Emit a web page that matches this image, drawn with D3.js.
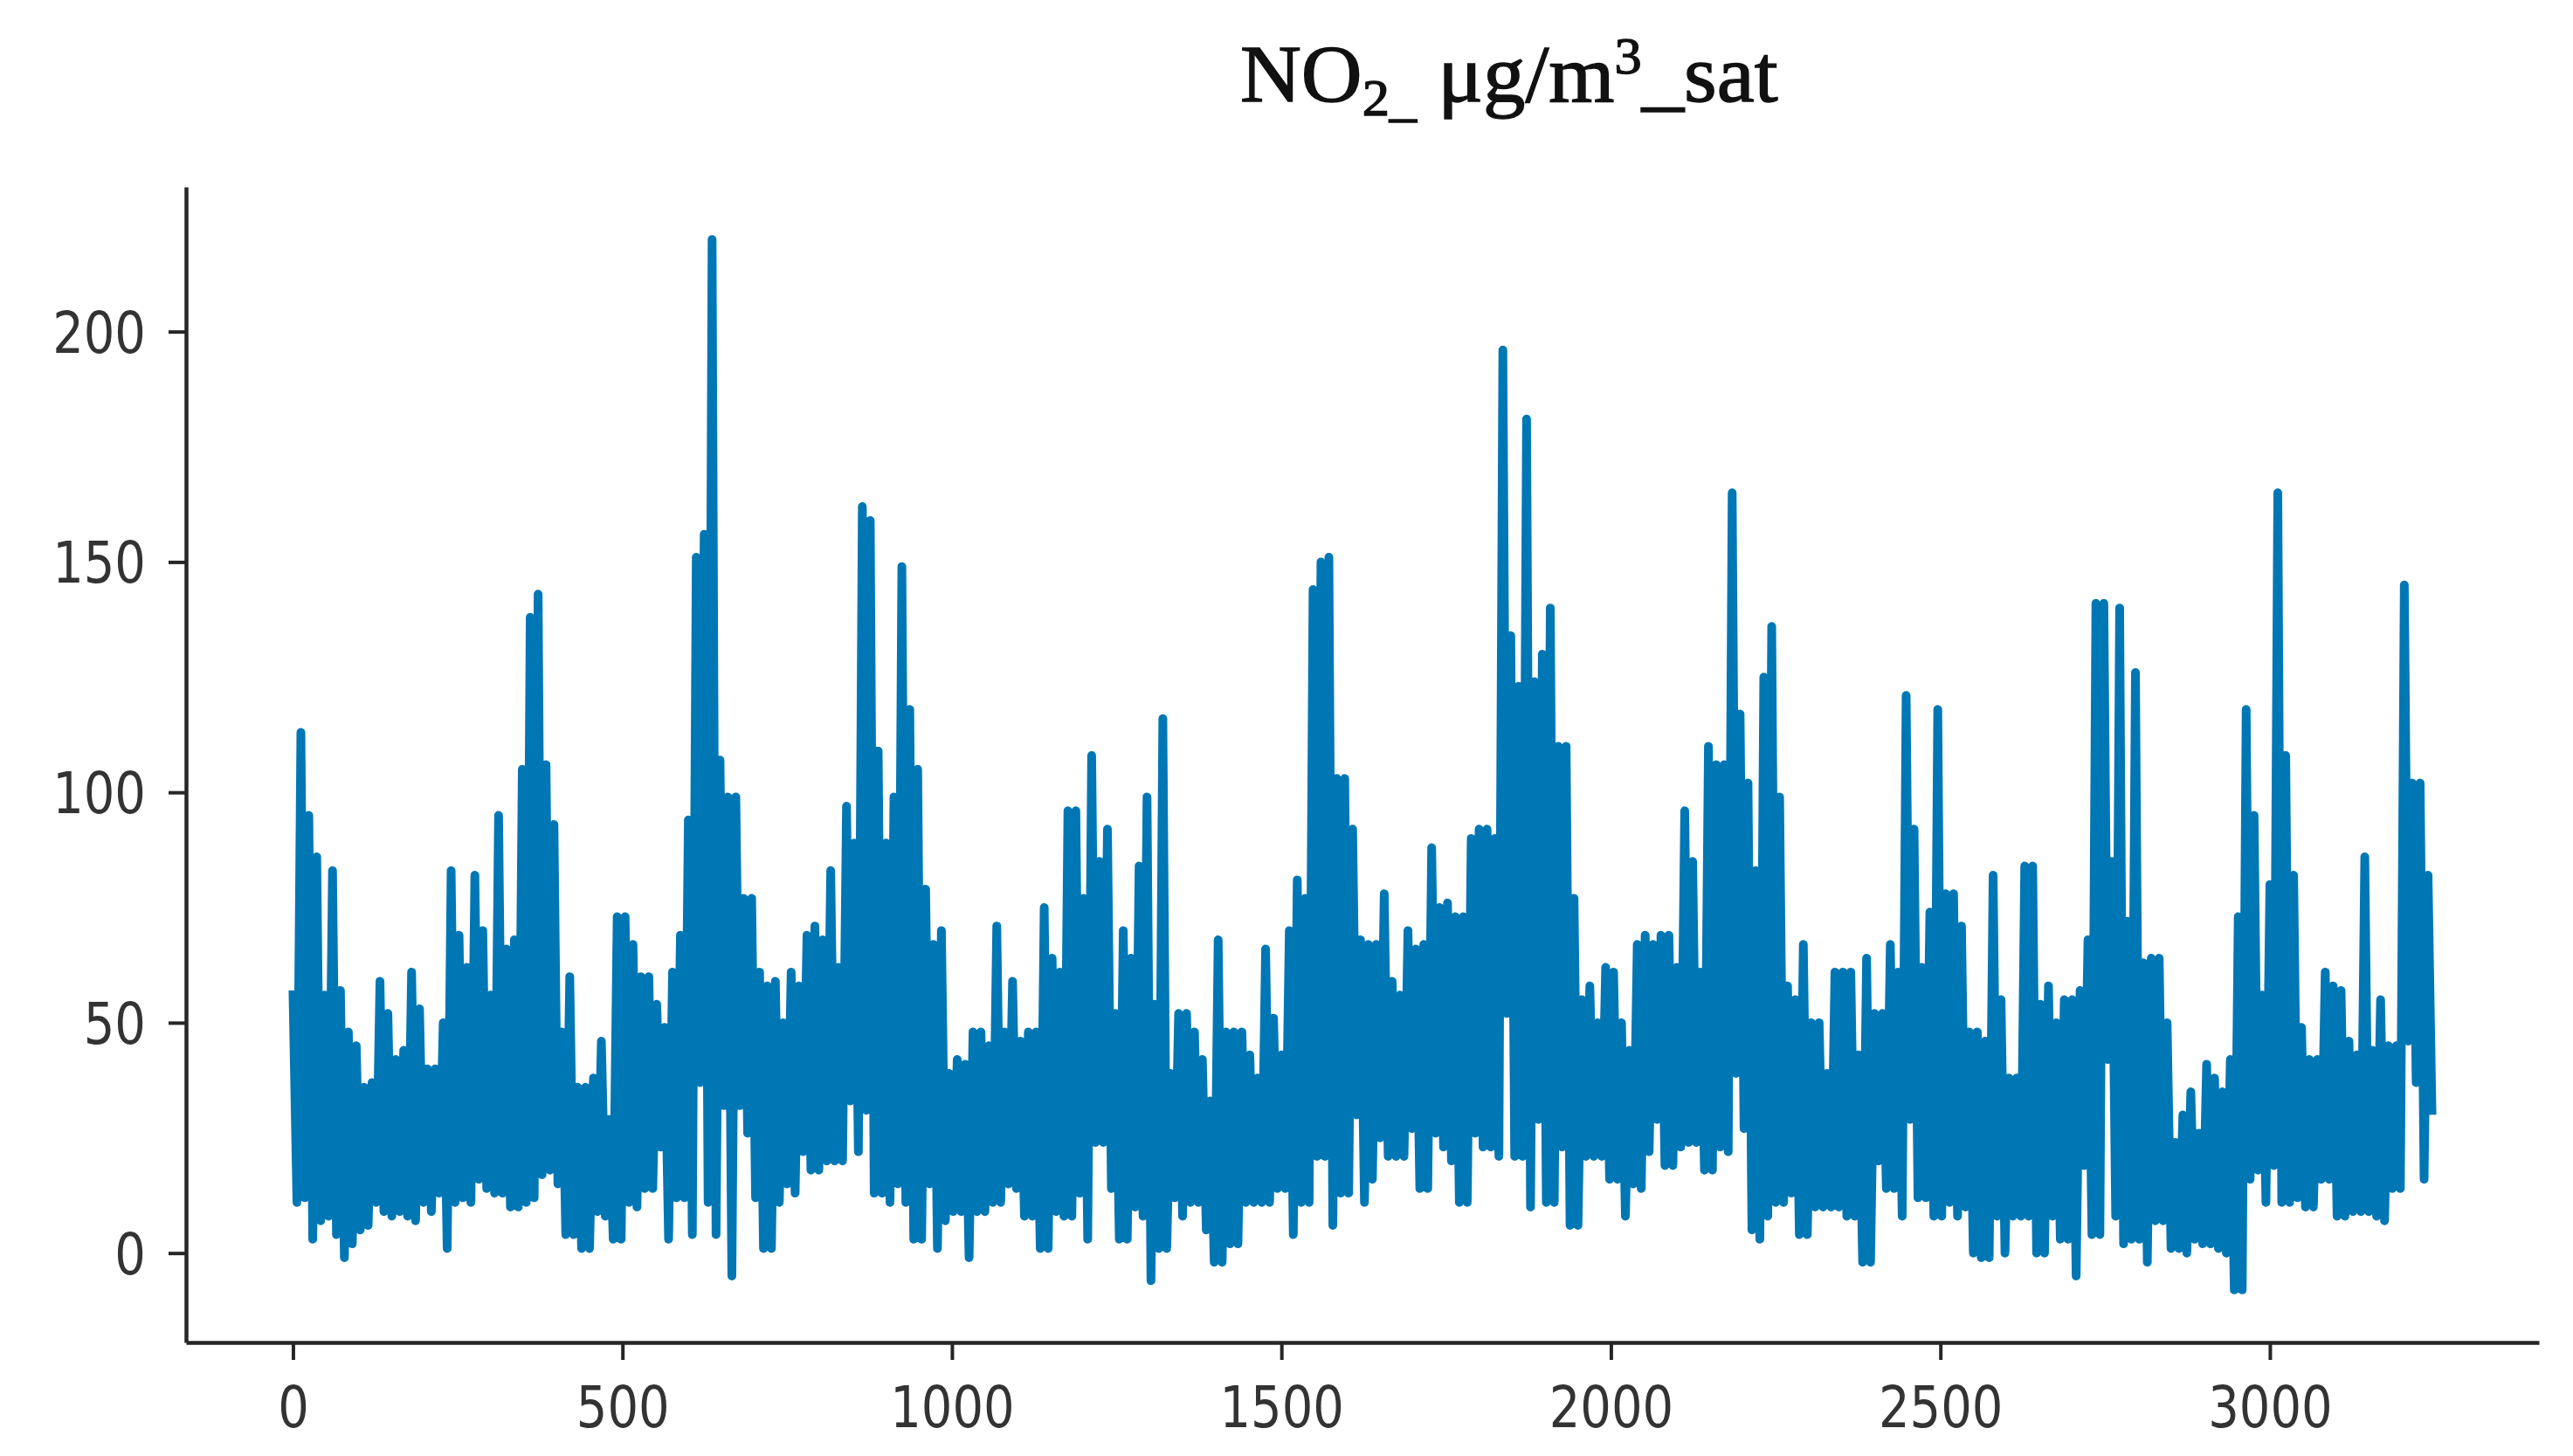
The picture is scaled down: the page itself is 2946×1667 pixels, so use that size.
<!DOCTYPE html>
<html><head><meta charset="utf-8">
<script src="https://cdn.jsdelivr.net/npm/d3@7"></script>
<style>html,body{margin:0;padding:0;background:#fff;}svg{display:block;}</style>
</head><body>
<svg id="chart" width="2946" height="1667"></svg>
<script>
// ---- data ----
const xTicks = [0, 500, 1000, 1500, 2000, 2500, 3000];
const yTicks = [0, 50, 100, 150, 200];
const sampleStep = 6; // index spacing between the values below
const no2 = [
57,11,113,12,95,3,86,7,56,8,
83,4,57,-1,48,2,45,5,36,6,
37,11,59,9,52,8,42,9,44,8,
61,7,53,11,40,9,40,13,50,1,
83,11,69,12,62,11,82,16,70,14,
56,13,95,13,66,10,68,10,105,11,
138,12,143,17,106,18,93,
15,48,4,60,4,36,1,36,1,38,
9,46,8,29,3,73,3,73,11,67,
10,60,14,60,14,54,23,49,3,61,
12,69,12,94,4,151,37,156,11,220,
4,107,32,99,-5,99,32,77,26,77,
12,61,1,58,1,59,11,50,15,61,
13,58,22,69,18,71,18,68,
20,83,20,62,20,97,33,89,22,162,
31,159,13,109,13,89,11,99,15,149,
11,118,3,105,3,79,15,67,1,70,
7,39,9,42,9,41,-1,48,9,48,
9,45,11,71,11,48,15,59,14,46,
8,48,8,48,1,75,1,64,9,61,
8,96,8,96,13,77,3,108,24,
85,24,92,14,52,3,70,3,64,10,
84,8,99,-6,54,1,116,1,39,12,
52,8,52,11,48,11,42,5,33,-2,
68,-2,48,2,48,2,48,11,43,11,
38,11,66,11,51,14,43,14,70,4,
81,11,77,11,144,21,150,21,151,6,
103,13,103,13,92,30,68,11,
67,16,67,25,78,21,59,21,56,21,
70,27,66,14,67,14,88,26,75,23,
76,20,73,11,73,11,90,26,92,23,
92,23,90,21,196,52,134,21,123,21,
181,10,124,29,130,11,140,11,110,23,
110,6,77,6,55,21,58,21,50,21,
62,16,61,16,50,8,44,15,67,
14,69,22,67,29,69,19,69,19,62,
23,96,24,85,24,61,18,110,18,106,
23,106,22,165,39,117,27,102,5,83,
3,125,8,136,11,99,11,58,13,55,
4,67,4,50,10,50,10,39,10,61,
10,61,8,61,8,43,-2,64,-2,52,
20,52,14,67,14,61,8,121,
29,92,12,62,12,74,8,118,8,78,
11,78,8,71,10,48,0,48,-1,46,
-1,82,8,55,0,38,8,38,8,84,
8,84,0,54,0,58,8,50,3,55,
3,55,-5,57,19,68,4,141,4,141,
42,85,8,140,2,72,3,126,3,63,
-2,64,7,64,7,50,1,24,1,
30,0,35,3,26,2,41,2,38,1,
35,0,42,-8,73,-8,118,16,95,18,
56,11,80,19,165,11,108,11,82,12,
49,10,42,10,42,16,61,16,58,8,
57,8,46,9,43,9,86,9,44,8,
55,7,45,14,45,14,145,46,102,37,
102,16,82,30
];

// ---- layout ----
const box = {left: 213, right: 2907, top: 214, bottom: 1537};
const svg = d3.select("#chart");

const xMax = (no2.length - 1) * sampleStep;
const xPad = xMax * 0.05;
const x = d3.scaleLinear().domain([-xPad, xMax + xPad]).range([box.left, box.right]);
const yLo = d3.min(no2), yHi = d3.max(no2);
const yPad = (yHi - yLo) * 0.05;
const y = d3.scaleLinear().domain([yLo - yPad, yHi + yPad]).range([box.bottom, box.top]);

// ---- series ----
const line = d3.line().x((d, i) => x(i * sampleStep)).y(d => y(d));
svg.append("path").datum(no2)
  .attr("d", line)
  .attr("fill", "none")
  .attr("stroke", "#0077b5")
  .attr("stroke-width", 10)
  .attr("stroke-linejoin", "round");

// ---- axes ----
const axisColor = "#262626";
const stretch = 1.17;

const gx = svg.append("g").attr("transform", `translate(0,${box.bottom})`)
  .call(d3.axisBottom(x).tickValues(xTicks).tickFormat(d3.format("d")).tickSize(20).tickSizeOuter(0));
const gy = svg.append("g").attr("transform", `translate(${box.left},0)`)
  .call(d3.axisLeft(y).tickValues(yTicks).tickFormat(d3.format("d")).tickSize(20).tickSizeOuter(0));

[gx, gy].forEach(g => {
  g.attr("font-family", "'DejaVu Sans', sans-serif").attr("font-size", 56);
  g.select(".domain").attr("stroke", axisColor).attr("stroke-width", 4.5);
  g.selectAll(".tick line").attr("stroke", axisColor).attr("stroke-width", 4);
  g.selectAll(".tick text").attr("fill", "#333");
});
gx.selectAll(".tick text")
  .attr("y", 0).attr("dy", null)
  .attr("transform", `translate(0,97) scale(1,${stretch})`);
gy.selectAll(".tick text")
  .attr("x", 0).attr("dy", null)
  .attr("text-anchor", "end")
  .attr("transform", `translate(-46,23.5) scale(1,${stretch})`);

// ---- title ----
const t = svg.append("text")
  .attr("transform", "translate(1420,116) scale(1.04,1)")
  .attr("font-family", "'Liberation Serif', 'Times New Roman', serif")
  .attr("font-size", 93)
  .attr("fill", "#111")
  .attr("stroke", "#111").attr("stroke-width", 1.4);
t.append("tspan").text("NO");
t.append("tspan").attr("font-size", 60).attr("dy", 16).text("2_");
t.append("tspan").attr("dy", -16).text("\u00a0μg/m");
t.append("tspan").attr("font-size", 60).attr("dy", -32).text("3");
t.append("tspan").attr("dy", 32).text("_sat");
</script>
</body></html>
